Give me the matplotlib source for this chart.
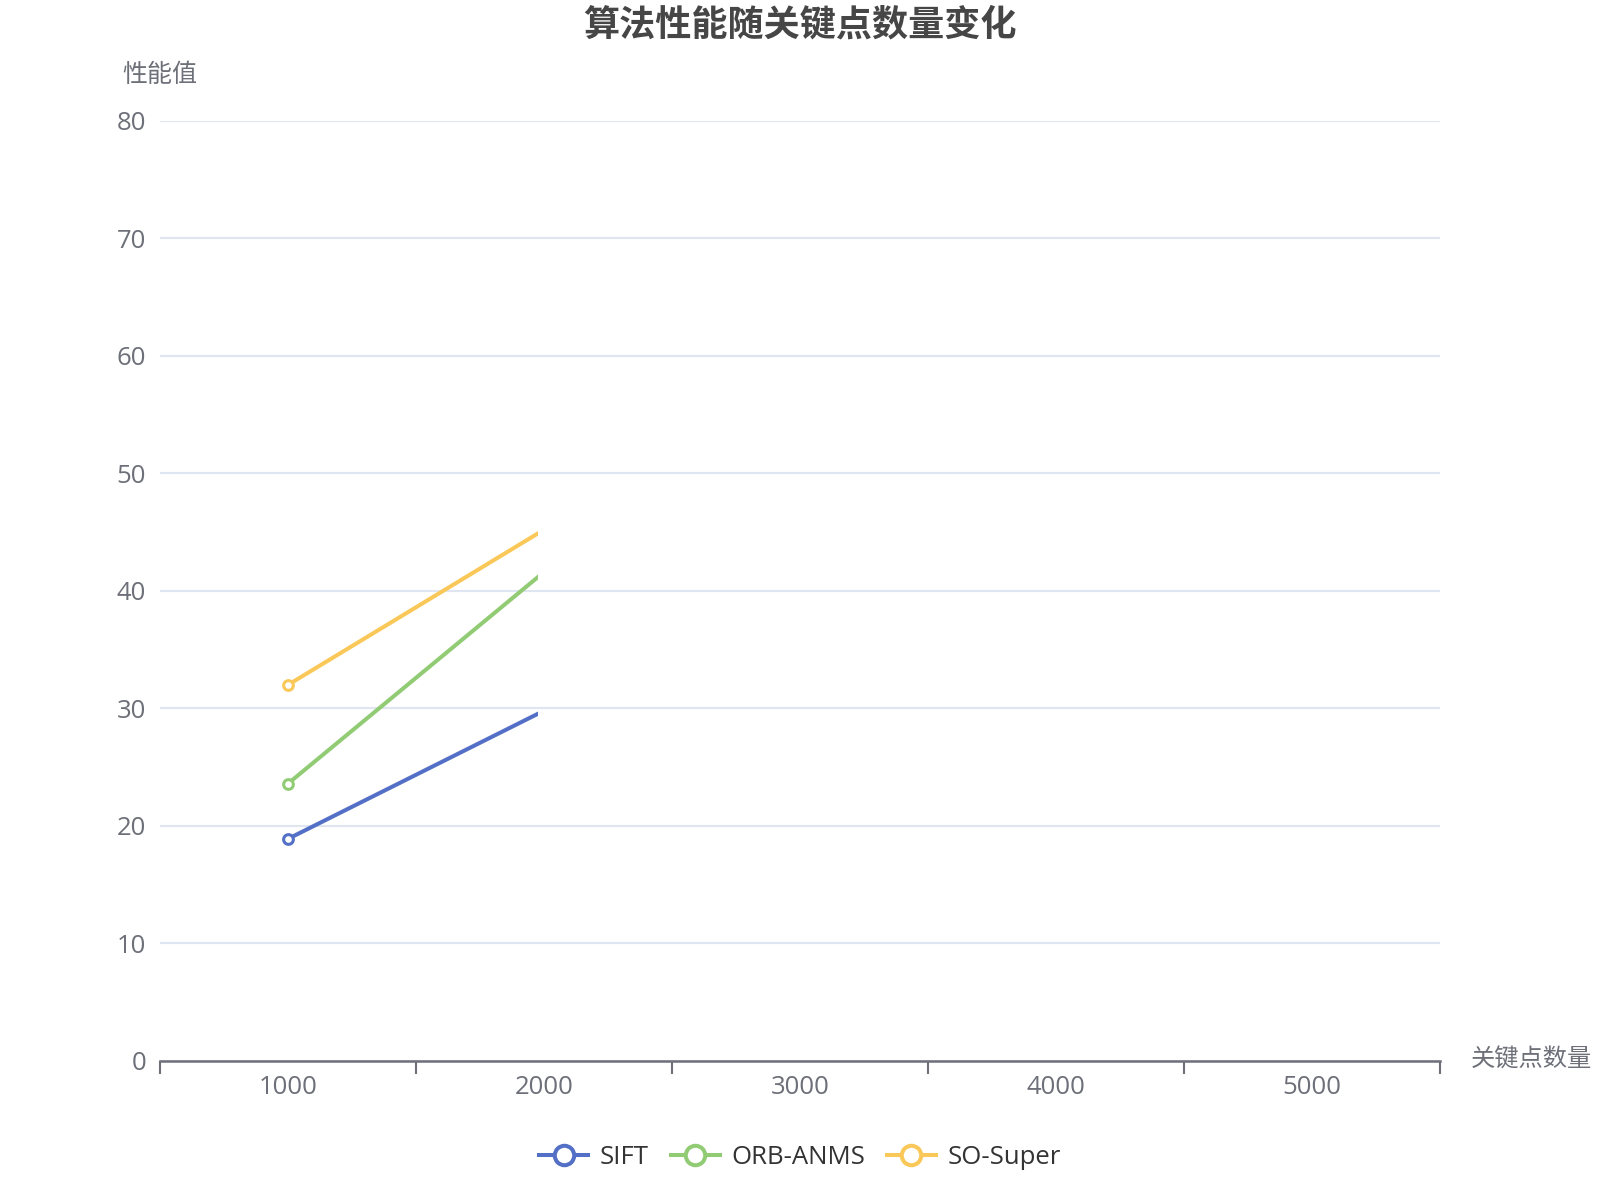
import matplotlib
matplotlib.use("Agg")
import matplotlib.pyplot as plt
from matplotlib.patches import Rectangle
from matplotlib.lines import Line2D

plt.rcParams['font.family'] = ['Open Sans', 'Noto Sans CJK SC', 'DejaVu Sans']

# ---- data ----
categories = ['1000', '2000', '3000', '4000', '5000']
series_names = ['SIFT', 'ORB-ANMS', 'SO-Super']
sift = [18.9, 29.8]
orb_anms = [23.6, 41.6]
so_super = [32.0, 45.2]
y_ticks = [0, 10, 20, 30, 40, 50, 60, 70, 80]
title = '算法性能随关键点数量变化'
x_name = '关键点数量'
y_name = '性能值'

colors = ['#5470C6', '#91CC75', '#FAC858']
label_color = '#6E7079'
grid_color = '#E0E6F1'
cjk = ['Noto Sans CJK SC', 'DejaVu Sans']

DPI = 100
fig = plt.figure(figsize=(16, 12), dpi=DPI)
ax = fig.add_axes([0.1, 1 - 1061 / 1200, 0.8, (1061 - 120.7) / 1200])

ax.set_xlim(-0.5, len(categories) - 0.5)
ax.set_ylim(0, 80)

# visible part of the lines (animation reveal ends just before 2nd category)
reveal = 0.977
for vals, c, name in zip([sift, orb_anms, so_super], colors, series_names):
    xs = list(range(len(vals)))
    ln, = ax.plot(xs, vals, color=c, lw=2.9, marker='o', markevery=[0],
                  markersize=7, markerfacecolor='white', markeredgecolor=c,
                  markeredgewidth=2.2, zorder=3, solid_capstyle='butt')
    clip = Rectangle((-0.5, -10), 0.5 + reveal, 200, transform=ax.transData)
    ln.set_clip_path(clip)

# grid
ax.set_yticks(y_ticks)
ax.yaxis.grid(True, color=grid_color, lw=1.5)
ax.set_axisbelow(True)
ax.tick_params(axis='y', length=0, pad=10, labelsize=18.5, labelcolor=label_color)
for t in ax.get_yticklabels():
    t.set_verticalalignment('center_baseline')

# x axis
ax.set_xticks(range(len(categories)))
ax.set_xticklabels(categories)
ax.set_xticks([i - 0.5 for i in range(len(categories) + 1)], minor=True)
ax.tick_params(axis='x', which='major', length=0, pad=10, labelsize=18.5,
               labelcolor=label_color)
ax.tick_params(axis='x', which='minor', length=9, width=1.5, color=label_color,
               direction='out')

for s in ['top', 'right', 'left']:
    ax.spines[s].set_visible(False)
ax.spines['bottom'].set_color(label_color)
ax.spines['bottom'].set_linewidth(1.8)

# axis names
fig.text(1471 / 1600, 1 - 1060 / 1200, x_name, fontsize=17.5, color=label_color,
         ha='left', va='center', family=cjk)
fig.text(160 / 1600, 1 - 75.5 / 1200, y_name, fontsize=18, color=label_color,
         ha='center', va='center', family=cjk)

# title
fig.text(0.5, 1 - 25 / 1200, title, fontsize=26, fontweight='bold',
         color='#464646', ha='center', va='center', family=cjk)

# legend
handles = [Line2D([0], [0], color=c, lw=2.9, marker='o', markersize=14,
                  markerfacecolor='white', markeredgecolor=c,
                  markeredgewidth=2.9) for c in colors]
fig.legend(handles, series_names, loc='center',
           bbox_to_anchor=(0.5, 1 - 1157 / 1200), ncol=3, frameon=False,
           fontsize=18.5, handlelength=1.9, handletextpad=0.45,
           columnspacing=0.85, labelcolor='#333333')

fig.savefig('out.png', dpi=DPI, facecolor='white')
